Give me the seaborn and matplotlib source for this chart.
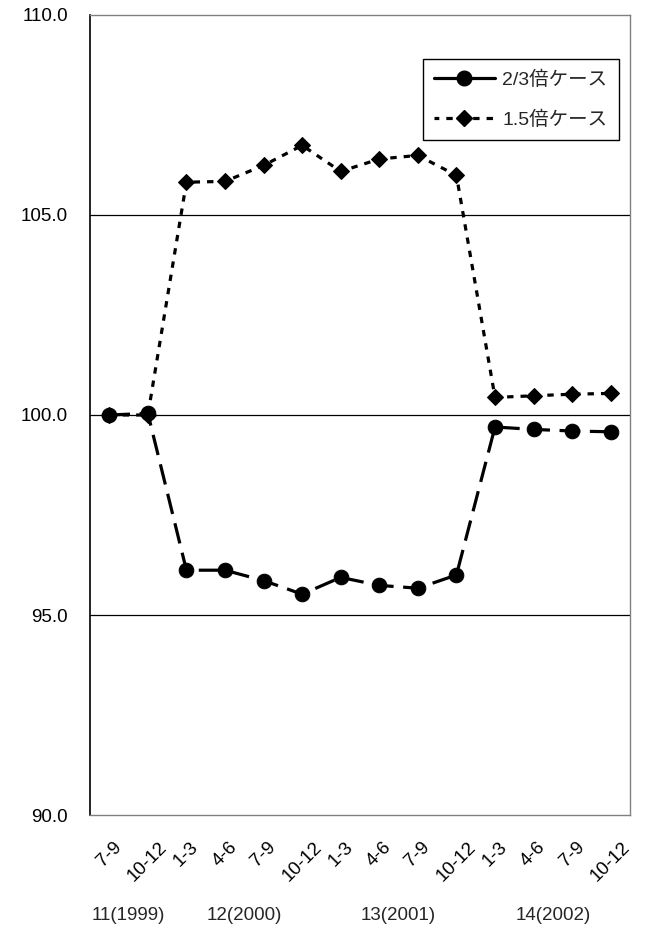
import matplotlib
matplotlib.use("Agg")
import matplotlib.pyplot as plt
import matplotlib.transforms as mtransforms
from matplotlib.lines import Line2D
import seaborn as sns
import pandas as pd

quarters = ["7-9", "10-12", "1-3", "4-6", "7-9", "10-12", "1-3", "4-6", "7-9", "10-12",
            "1-3", "4-6", "7-9", "10-12"]
years = ["11(1999)", "12(2000)", "13(2001)", "14(2002)"]
year_centers = [0.5, 3.5, 7.5, 11.5]

case_23 = [100.0, 100.04, 96.12, 96.12, 95.86, 95.52, 95.94, 95.74, 95.67, 96.0,
           99.70, 99.64, 99.60, 99.58]
case_15 = [100.0, 100.0, 105.82, 105.84, 106.24, 106.74, 106.09, 106.40, 106.49, 105.99,
           100.44, 100.48, 100.52, 100.54]
label_23 = "2/3倍ケース"
label_15 = "1.5倍ケース"
yticks = [90.0, 95.0, 100.0, 105.0, 110.0]

sns.set_theme(style="white")
plt.rcParams['font.family'] = ['Liberation Sans', 'Noto Sans CJK JP', 'DejaVu Sans']

FS = 13.5

df = pd.DataFrame({"idx": list(range(len(quarters))), "a": case_23, "b": case_15})

fig = plt.figure(figsize=(6.52, 9.30), dpi=100)
ax = fig.add_axes([90/652, 1-815/930, 540/652, 800/930])

for y in [95, 100, 105]:
    ax.axhline(y, color="black", linewidth=0.9, zorder=1)

sns.lineplot(data=df, x="idx", y="b", ax=ax, color="black", marker="D",
             markersize=8.5, markeredgecolor="black", linewidth=2.3,
             linestyle=(0, (2.0, 2.2)), zorder=3)
sns.lineplot(data=df, x="idx", y="a", ax=ax, color="black", marker="o",
             markersize=10.5, markeredgecolor="black", linewidth=2.3,
             linestyle=(0, (6.5, 3.0)), zorder=4)

ax.set_xlim(-0.5, len(quarters) - 0.5)
ax.set_ylim(90, 110)
ax.set_yticks(yticks)
ax.set_yticklabels([f"{v:.1f}" for v in yticks], fontsize=FS)
ax.set_xticks(range(len(quarters)))
ax.set_xticklabels(quarters, fontsize=FS, rotation=45, ha="center", va="top")
ax.tick_params(axis="y", length=0, pad=16, colors="black")
ax.tick_params(axis="x", length=0, pad=17, colors="black")
ax.set_xlabel("")
ax.set_ylabel("")

for s in ["top", "right", "bottom"]:
    ax.spines[s].set_color("#808080")
    ax.spines[s].set_linewidth(1.0)
ax.spines["left"].set_color("black")
ax.spines["left"].set_linewidth(1.2)

trans = mtransforms.blended_transform_factory(ax.transData, fig.transFigure)
for yr, c in zip(years, year_centers):
    ax.text(c, 1 - 915/930, yr, transform=trans, ha="center", va="center", fontsize=FS)

handles = [
    Line2D([], [], color="black", linewidth=2.3, linestyle="-", marker="o",
           markersize=10.5),
    Line2D([], [], color="black", linewidth=2.3, linestyle=(0.5, (2.0, 2.2)),
           marker="D", markersize=8.5),
]
leg = ax.legend(handles, [label_23, label_15],
                loc="upper right", bbox_to_anchor=(0.980, 0.945), borderaxespad=0,
                fontsize=14, frameon=True, fancybox=False, edgecolor="black",
                framealpha=1, handlelength=3.1, numpoints=1, borderpad=0.6,
                labelspacing=1.1, handletextpad=0.4)
leg.get_frame().set_linewidth(1.0)

fig.savefig("out.png", dpi=100)
